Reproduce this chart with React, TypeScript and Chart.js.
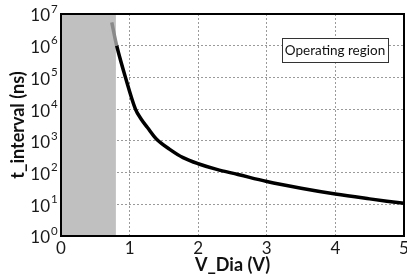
import React, { useEffect, useRef } from "react";
import { Chart, registerables } from "chart.js";

Chart.register(...registerables);

const vDia: number[] = [0.74, 0.812, 0.94, 1.085, 1.17, 1.26, 1.39, 1.58, 1.78, 2.0, 2.27, 2.58, 3.0, 3.5, 4.0, 4.5, 5.0];
const tInterval: number[] = [5.4e6, 1e6, 1e5, 1e4, 4790, 2630, 1150, 550, 295, 190, 126, 87, 52, 32, 21, 14.8, 10.7];
const xTicks: number[] = [0, 1, 2, 3, 4, 5];
const yExponents: number[] = [0, 1, 2, 3, 4, 5, 6, 7];
const shadedRange: number[] = [0, 0.8];
const annotationText = "Operating region";
const xTitle = "V_Dia (V)";
const yTitle = "t_interval (ns)";

const FONT = "Lato, 'Open Sans', sans-serif";

export default function App() {
  const ref = useRef<HTMLCanvasElement | null>(null);
  useEffect(() => {
    if (!ref.current) return;
    const decorations = {
      id: "decorations",
      beforeDatasetsDraw(chart: any) {
        const { ctx, chartArea, scales } = chart;
        const x0 = scales.x.getPixelForValue(shadedRange[0]);
        const x1 = scales.x.getPixelForValue(shadedRange[1]);
        ctx.save();
        ctx.fillStyle = "#c0c0c0";
        ctx.fillRect(x0, chartArea.top, x1 - x0, chartArea.bottom - chartArea.top);
        ctx.restore();
      },
      afterDraw(chart: any) {
        const { ctx, chartArea, scales } = chart;
        ctx.save();
        ctx.strokeStyle = "#000";
        ctx.lineWidth = 2;
        ctx.strokeRect(chartArea.left, chartArea.top, chartArea.right - chartArea.left, chartArea.bottom - chartArea.top);
        ctx.fillStyle = "#1a1a1a";
        for (const e of yExponents) {
          const y = scales.y.getPixelForValue(Math.pow(10, e));
          ctx.font = `17px ${FONT}`;
          ctx.textAlign = "right";
          ctx.textBaseline = "middle";
          ctx.fillText("10", chartArea.left - 11, y + 2);
          ctx.font = `11.5px ${FONT}`;
          ctx.textAlign = "left";
          ctx.fillText(String(e), chartArea.left - 10, y - 5);
        }
        const bx = chartArea.right - 122;
        const by = chartArea.top + 24;
        const bw = 106;
        const bh = 24;
        ctx.fillStyle = "#fff";
        ctx.fillRect(bx, by, bw, bh);
        ctx.strokeStyle = "#333";
        ctx.lineWidth = 1;
        ctx.strokeRect(bx + 0.5, by + 0.5, bw, bh);
        ctx.fillStyle = "#111";
        ctx.font = `13.5px ${FONT}`;
        ctx.textAlign = "center";
        ctx.textBaseline = "middle";
        ctx.fillText(annotationText, bx + bw / 2, by + bh / 2 + 1);
        ctx.restore();
      },
    };

    const chart = new Chart(ref.current, {
      type: "line",
      data: {
        datasets: [
          {
            data: vDia.map((x, i) => ({ x, y: tInterval[i] })),
            borderColor: "#000",
            borderWidth: 3.5,
            pointRadius: 0,
            tension: 0.35,
            segment: {
              borderColor: (c: any) => (c.p0.parsed.x < shadedRange[1] ? "#8a8a8a" : "#000"),
            },
          } as any,
        ],
      },
      options: {
        responsive: false,
        animation: false,
        layout: { padding: { top: 14, right: 3, left: 0, bottom: 0 } },
        plugins: { legend: { display: false }, tooltip: { enabled: false } },
        scales: {
          x: {
            type: "linear",
            min: 0,
            max: 5,
            afterBuildTicks: (axis: any) => {
              axis.ticks = xTicks.map((v) => ({ value: v }));
            },
            afterFit: (scale: any) => {
              scale.height = 43;
              scale.paddingLeft = 0;
              scale.paddingRight = 0;
            },
            grid: { color: "#9a9a9a", lineWidth: 1, drawTicks: false },
            border: { display: false, dash: [2, 2] },
            ticks: {
              color: "#1a1a1a",
              font: { family: FONT, size: 17 },
              padding: 2,
              maxRotation: 0,
              callback: (v: any) => String(v),
            },
            title: {
              display: true,
              text: xTitle,
              color: "#111",
              font: { family: FONT, size: 18, weight: "bold" },
              padding: { top: 0, bottom: 3 },
            },
          },
          y: {
            type: "logarithmic",
            min: 1,
            max: 1e7,
            afterBuildTicks: (axis: any) => {
              axis.ticks = yExponents.map((e) => ({ value: Math.pow(10, e) }));
            },
            afterFit: (scale: any) => {
              scale.width = 61;
              scale.paddingTop = 0;
              scale.paddingBottom = 0;
            },
            grid: { color: "#9a9a9a", lineWidth: 1, drawTicks: false },
            border: { display: false, dash: [2, 2] },
            ticks: { display: false },
            title: {
              display: true,
              text: yTitle,
              color: "#111",
              font: { family: FONT, size: 18, weight: "bold" },
              padding: { top: 7, bottom: 0 },
            },
          },
        },
      } as any,
      plugins: [decorations],
    });
    return () => chart.destroy();
  }, []);

  return (
    <div style={{ position: "fixed", left: 0, top: 0, width: 407, height: 279, background: "#fff" }}>
      <canvas ref={ref} width={407} height={279} style={{ display: "block" }} />
    </div>
  );
}
